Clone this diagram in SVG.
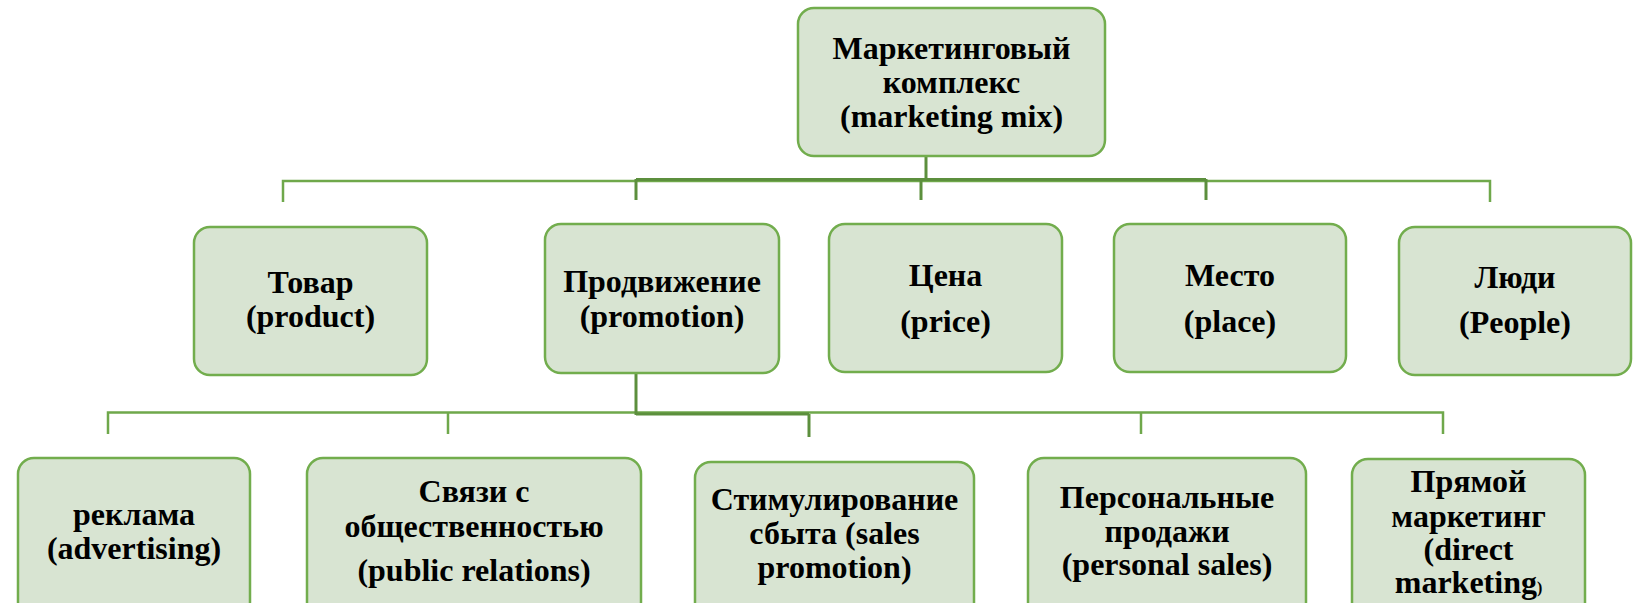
<svg xmlns="http://www.w3.org/2000/svg" width="1637" height="603" viewBox="0 0 1637 603">
<style>
.box{fill:#d8e4d2;stroke:#72ad4d;stroke-width:2.5}
.t{font-family:"Liberation Serif","Times New Roman",serif;font-weight:bold;font-size:32px;fill:#000;text-anchor:middle}
.thin{fill:none;stroke:#6fa84b;stroke-width:2.5}
.dark{fill:none;stroke:#5c8f3d;stroke-width:3}
.pale{fill:none;stroke:#c3d7b8;stroke-width:3}
</style>
<rect width="1637" height="603" fill="#ffffff"/>
<g id="connectors">
  <path class="thin" d="M283,202 V181 H1490 V202"/>
  <path class="pale" d="M926,133 V156"/>
  <path class="dark" d="M926,156 V181"/>
  <path class="dark" stroke-width="4" d="M636,179.5 H1206"/>
  <path class="dark" d="M636,179 V200 M921,179 V200 M1206,179 V200"/>
  <path class="thin" d="M108,434 V412.5 H1443 V434 M448,412.5 V434 M1141,412.5 V434"/>
  <path class="pale" d="M636,348 V373"/>
  <path class="dark" d="M636,373 V415"/>
  <path class="dark" stroke-width="4" d="M636,414 H809"/>
  <path class="dark" d="M809,414 V437"/>
</g>
<g id="node-mix">
  <rect class="box" x="798" y="8" width="307" height="148" rx="16"/>
  <text class="t" x="951.5" y="59">Маркетинговый</text>
  <text class="t" x="951.5" y="93">комплекс</text>
  <text class="t" x="951.5" y="127">(marketing mix)</text>
</g>
<g id="node-product">
  <rect class="box" x="194" y="227" width="233" height="148" rx="16"/>
  <text class="t" x="310.5" y="293">Товар</text>
  <text class="t" x="310.5" y="327">(product)</text>
</g>
<g id="node-promotion">
  <rect class="box" x="545" y="224" width="234" height="149" rx="16"/>
  <text class="t" x="662" y="292">Продвижение</text>
  <text class="t" x="662" y="327">(promotion)</text>
</g>
<g id="node-price">
  <rect class="box" x="829" y="224" width="233" height="148" rx="16"/>
  <text class="t" x="945.5" y="286">Цена</text>
  <text class="t" x="945.5" y="332">(price)</text>
</g>
<g id="node-place">
  <rect class="box" x="1114" y="224" width="232" height="148" rx="16"/>
  <text class="t" x="1230" y="286">Место</text>
  <text class="t" x="1230" y="332">(place)</text>
</g>
<g id="node-people">
  <rect class="box" x="1399" y="227" width="232" height="148" rx="16"/>
  <text class="t" x="1515" y="288">Люди</text>
  <text class="t" x="1515" y="333">(People)</text>
</g>
<g id="node-advertising">
  <rect class="box" x="18" y="458" width="232" height="160" rx="16"/>
  <text class="t" x="134" y="525">реклама</text>
  <text class="t" x="134" y="559">(advertising)</text>
</g>
<g id="node-pr">
  <rect class="box" x="307" y="458" width="334" height="160" rx="16"/>
  <text class="t" x="474" y="502">Связи с</text>
  <text class="t" x="474" y="537">общественностью</text>
  <text class="t" x="474" y="581">(public relations)</text>
</g>
<g id="node-sales-promotion">
  <rect class="box" x="695" y="462" width="279" height="160" rx="16"/>
  <text class="t" x="834.5" y="510">Стимулирование</text>
  <text class="t" x="834.5" y="544">сбыта (sales</text>
  <text class="t" x="834.5" y="578">promotion)</text>
</g>
<g id="node-personal-sales">
  <rect class="box" x="1028" y="458" width="278" height="160" rx="16"/>
  <text class="t" x="1167" y="508">Персональные</text>
  <text class="t" x="1167" y="542">продажи</text>
  <text class="t" x="1167" y="575">(personal sales)</text>
</g>
<g id="node-direct">
  <rect class="box" x="1352" y="459" width="233" height="160" rx="16"/>
  <text class="t" x="1468.5" y="492">Прямой</text>
  <text class="t" x="1468.5" y="527">маркетинг</text>
  <text class="t" x="1468.5" y="560">(direct</text>
  <text class="t" x="1468.5" y="593">marketing<tspan font-size="16">)</tspan></text>
</g>
</svg>
